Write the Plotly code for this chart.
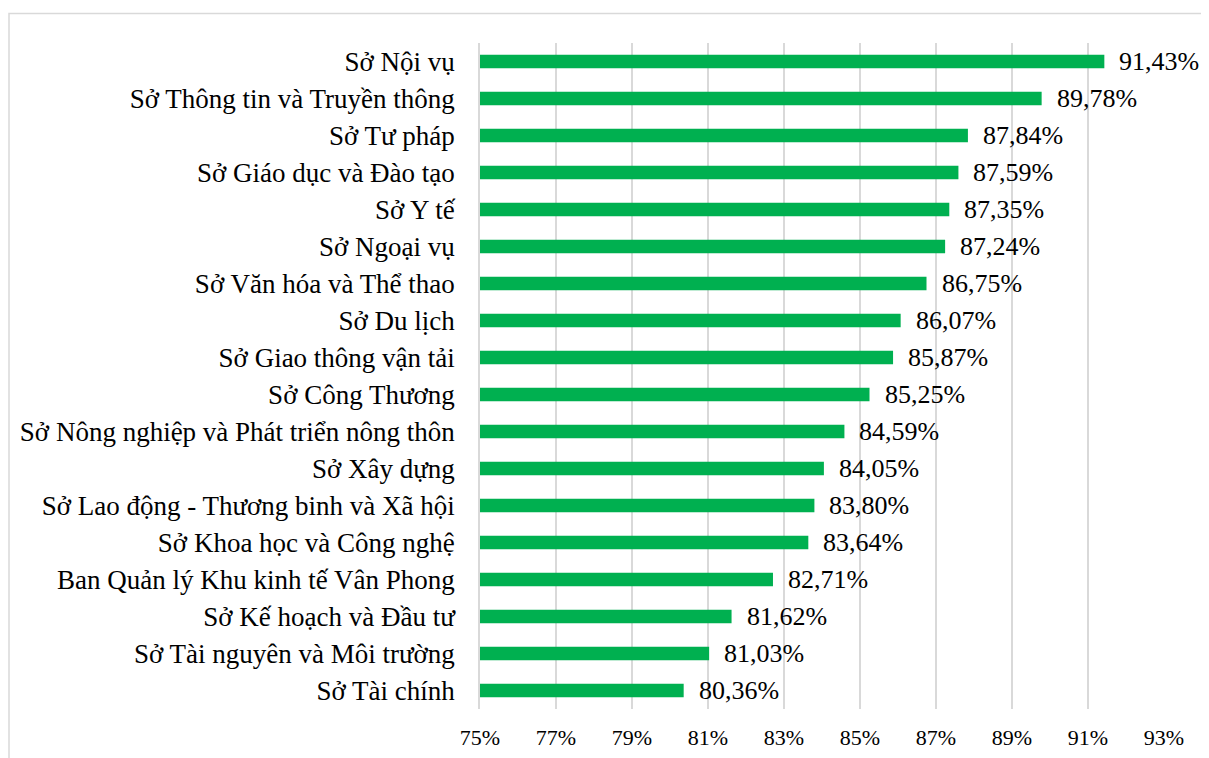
import plotly.graph_objects as go

categories = [
    "Sở Nội vụ",
    "Sở Thông tin và Truyền thông",
    "Sở Tư pháp",
    "Sở Giáo dục và Đào tạo",
    "Sở Y tế",
    "Sở Ngoại vụ",
    "Sở Văn hóa và Thể thao",
    "Sở Du lịch",
    "Sở Giao thông vận tải",
    "Sở Công Thương",
    "Sở Nông nghiệp và Phát triển nông thôn",
    "Sở Xây dựng",
    "Sở Lao động - Thương binh và Xã hội",
    "Sở Khoa học và Công nghệ",
    "Ban Quản lý Khu kinh tế Vân Phong",
    "Sở Kế hoạch và Đầu tư",
    "Sở Tài nguyên và Môi trường",
    "Sở Tài chính",
]
values = [91.43, 89.78, 87.84, 87.59, 87.35, 87.24, 86.75, 86.07, 85.87,
          85.25, 84.59, 84.05, 83.80, 83.64, 82.71, 81.62, 81.03, 80.36]
tick_vals = [75, 77, 79, 81, 83, 85, 87, 89, 91, 93]
tick_text = ["75%", "77%", "79%", "81%", "83%", "85%", "87%", "89%", "91%", "93%"]

labels = [f"{v:.2f}".replace(".", ",") + "%" for v in values]
FONT = "Liberation Serif"

fig = go.Figure()
fig.add_trace(go.Bar(
    x=[v - 75 for v in values], base=75, y=categories, orientation="h",
    marker=dict(color="#00B050", line=dict(width=0)), width=0.36,
    hoverinfo="skip",
))

for c, v, t in zip(categories, values, labels):
    fig.add_annotation(x=v, y=c, text=t, showarrow=False, xanchor="left",
                       xshift=13, font=dict(family=FONT, size=26, color="#000000"))

W, H = 1209, 758
L, R, T, B = 472, 53, 34.5, 56.5
pw, ph = W - L - R, H - T - B
fig.add_shape(type="rect", xref="paper", yref="paper",
              x0=(1 - L) / pw, x1=(W + 10 - L) / pw,
              y0=(H - B - (H + 10)) / ph, y1=(H - B - 5) / ph,
              line=dict(color="#d9d9d9", width=1.5), fillcolor="rgba(0,0,0,0)", layer="below")

fig.update_layout(
    template="none",
    width=W, height=H,
    margin=dict(l=L, r=R, t=T, b=B, autoexpand=False),
    paper_bgcolor="white", plot_bgcolor="white",
    showlegend=False,
    font=dict(family=FONT, size=26, color="#000000"),
    xaxis=dict(range=[75, 93], tickvals=tick_vals, ticktext=tick_text,
               tickfont=dict(size=22),
               showgrid=True, gridcolor="#d9d9d9", gridwidth=1.5,
               zeroline=False, showline=False, ticks="", ticklabelstandoff=13,
               automargin=False, fixedrange=True),
    yaxis=dict(categoryorder="array", categoryarray=categories[::-1],
               tickfont=dict(size=27),
               showgrid=False, showline=True, linecolor="#d9d9d9", linewidth=1.5,
               ticks="", ticklabelstandoff=18, zeroline=False, automargin=False,
               fixedrange=True),
)
fig.write_html("out.html")
